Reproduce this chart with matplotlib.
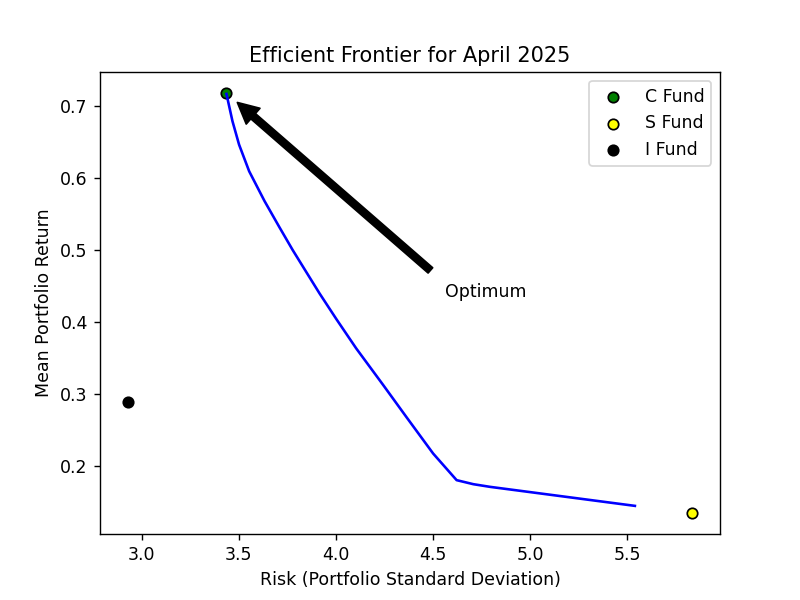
import numpy as np
import matplotlib
matplotlib.use("Agg")
import matplotlib.pyplot as plt

# efficient frontier (risk, return)
frontier_risk = [3.436, 3.467, 3.501, 3.553, 3.632, 3.708, 3.777, 3.846,
                 3.915, 4.001, 4.104, 4.242, 4.363, 4.500, 4.621, 4.707,
                 4.793, 5.539]
frontier_ret = [0.7167, 0.6788, 0.6463, 0.6093, 0.5680, 0.5320, 0.5000,
                0.4699, 0.4399, 0.4045, 0.3635, 0.3130, 0.2680, 0.2176,
                0.1806, 0.1750, 0.1713, 0.1449]

fund_names = ["C Fund", "S Fund", "I Fund"]
fund_risk = [3.436, 5.832, 2.930]
fund_ret = [0.718, 0.135, 0.289]
fund_colors = ["green", "yellow", "black"]

optimum = (3.436, 0.718)

fig, ax = plt.subplots(figsize=(6.4, 4.8), dpi=125)

ax.plot(frontier_risk, frontier_ret, color="blue")

for name, x, y, c in zip(fund_names, fund_risk, fund_ret, fund_colors):
    ax.scatter(x, y, color=c, edgecolors="black", label=name)

ax.annotate("Optimum", xy=optimum, xytext=(4.56, 0.435),
            arrowprops=dict(facecolor="black", shrink=0.05))

ax.set_title("Efficient Frontier for April 2025")
ax.set_xlabel("Risk (Portfolio Standard Deviation)")
ax.set_ylabel("Mean Portfolio Return")
ax.legend()

fig.savefig("out.png")
